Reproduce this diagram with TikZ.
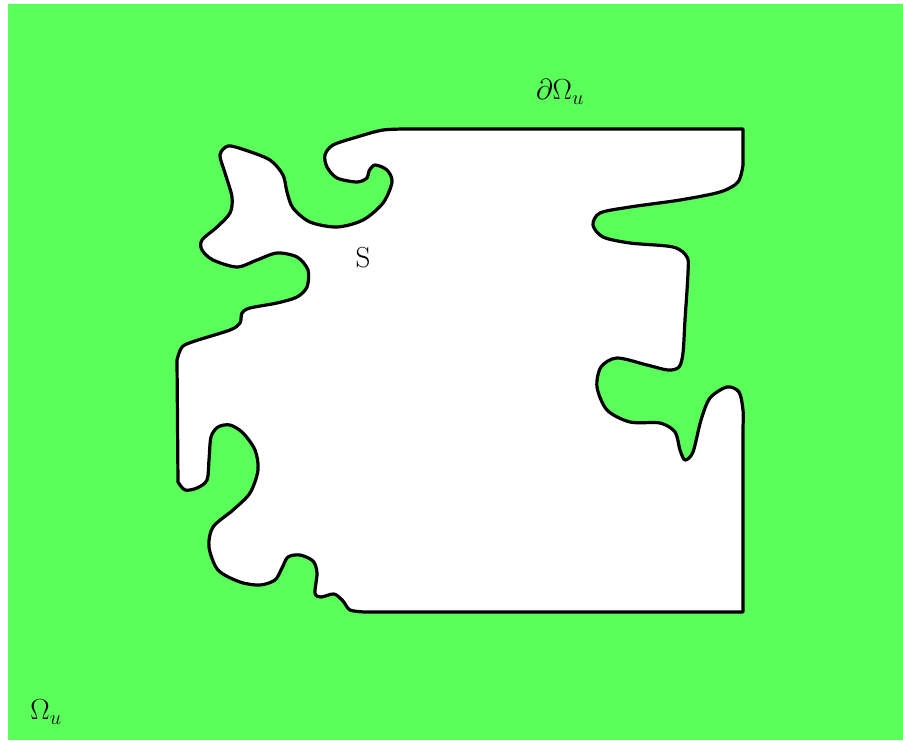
\documentclass[tikz,border=0pt]{standalone}
\usepackage{fix-cm}
\usetikzlibrary{calc}

\begin{document}
\begin{tikzpicture}[x=1pt, y=-1pt]
    \definecolor{regionColour}{HTML}{5AFF5A}
    \definecolor{borderColour}{HTML}{000000}

    \def\lineW{3.2pt}
    \def\labelSize{\fontsize{29}{34}\selectfont}

    % Fix the page size
    \useasboundingbox (0,0) rectangle (903,740);

    % Draw the outer region
    \fill[regionColour] (8,4) rectangle (903,740);

    % Corners of the straight parts of the boundary
    \coordinate (TL) at (410,129);
    \coordinate (TR) at (743,129);
    \coordinate (RT) at (743,165);
    \coordinate (RB) at (743,427);
    \coordinate (BR) at (743,612);
    \coordinate (BL) at (365,612);
    \coordinate (LB) at (177,482);
    \coordinate (LT) at (177,360);

    % Draw the hole S with its wavy boundary
    \filldraw[fill=white, draw=borderColour, line width=\lineW, line join=round]
        (TL) -- (TR) -- (RT)
        -- plot[smooth] coordinates {(743,165) (738,182) (720,192) (680,200) (630,207)
            (600,213) (593,225) (603,237) (630,243) (673,247) (687,257) (688,273)
            (685,320) (683,353) (679,367) (668,370) (647,365) (617,358) (601,367)
            (597,387) (607,410) (630,422) (660,423) (675,432) (680,450) (685,460)
            (693,452) (701,420) (710,398) (727,387) (739,392) (743,410) (743,427)}
        -- (BR) -- (BL)
        -- plot[smooth] coordinates {(365,612) (350,610) (343,601) (334,594) (321,597)
            (315,593) (317,573) (313,561) (300,555) (288,557) (282,568) (275,580)
            (260,585) (240,582) (218,570) (209,547) (213,527) (233,510) (250,493)
            (258,470) (255,450) (243,433) (230,425) (218,427) (211,437) (209,460)
            (207,480) (197,488) (185,490) (178,482)}
        -- (LT)
        -- plot[smooth] coordinates {(177,360) (182,347) (195,341) (230,330) (240,323)
            (242,313) (250,308) (277,303) (297,297) (307,287) (308,270) (297,257)
            (277,253) (257,260) (237,267) (213,260) (202,250) (202,240) (217,227)
            (230,213) (232,197) (225,173) (220,155) (228,146) (245,150) (270,160)
            (283,175) (287,192) (293,208) (310,222) (337,227) (363,220) (383,203)
            (392,182) (387,170) (375,165) (369,171) (367,178) (357,182) (337,178)
            (327,167) (325,155) (333,145) (357,137) (383,130) (410,129)}
        -- cycle;

    % Labels
    \node (boundary) at (560,92) {\labelSize $\partial\Omega_u$};
    \node (hole) at (363,258) {\labelSize S};
    \node (domain) at (46,712) {\labelSize $\Omega_u$};

\end{tikzpicture}
\end{document}
